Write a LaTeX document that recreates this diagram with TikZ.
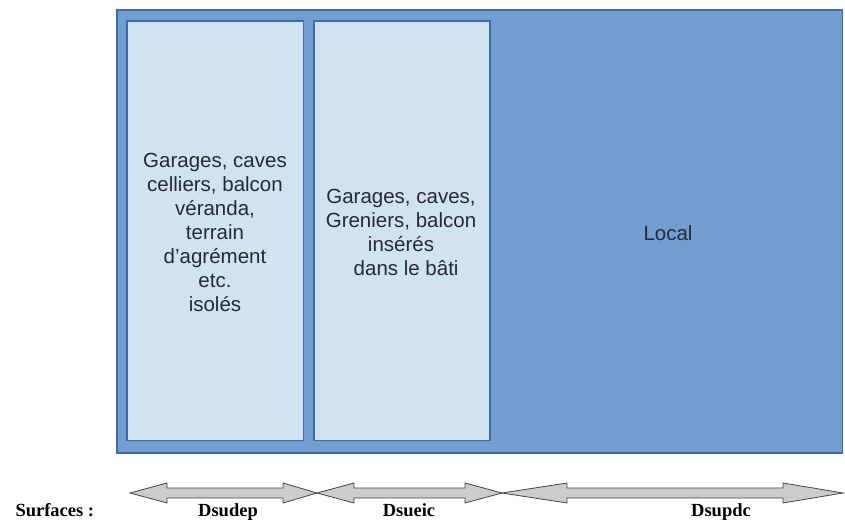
\documentclass[tikz,border=0pt]{standalone}
\usepackage{fontspec}
\setmainfont{Liberation Serif}
\newfontfamily\boxfont{Liberation Sans}
\definecolor{outerfill}{HTML}{729FCF}
\definecolor{outerline}{HTML}{3D6CA8}
\definecolor{innerfill}{HTML}{CFE3F3}
\definecolor{txt}{HTML}{262B33}
\definecolor{arrfill}{HTML}{CCCCCC}
\definecolor{arrline}{HTML}{444444}
\tikzset{
  zone/.style={draw=outerline, line width=1.2pt},
  boxtext/.style={font=\boxfont\fontsize{20.5}{24}\selectfont, text=txt, align=center},
  surf/.style={font=\bfseries\fontsize{18.5}{20}\selectfont, text=black},
  darrow/.style={draw=arrline, fill=arrfill, line width=0.8pt, line join=miter},
}
\begin{document}
\begin{tikzpicture}[x=1pt,y=-1pt]
\useasboundingbox (0,0) rectangle (845,521);
% outer zone
\draw[zone, fill=outerfill] (117,10) rectangle (842.5,453);
% inner boxes
\draw[zone, fill=innerfill] (127,21) rectangle (303.5,440.5);
\draw[zone, fill=innerfill] (314,21) rectangle (490,440.5);
\node[boxtext] (dep) at (215,232) {Garages, caves\\celliers, balcon\\véranda,\\terrain\\d’agrément\\etc.\\isolés};
\node[boxtext] (eic) at (401,232) {Garages, caves,\\Greniers, balcon\\insérés\\\hspace*{0.5em}dans le bâti};
\node[boxtext] (loc) at (668,233) {Local};
% double arrows
\draw[darrow] (130,493) -- (167,483) -- (167,488) -- (283,488) -- (283,483) -- (317,493)
  -- (283,503) -- (283,498) -- (167,498) -- (167,503) -- cycle;
\draw[darrow] (317,493) -- (354,483) -- (354,488) -- (465,488) -- (465,483) -- (502,493)
  -- (465,503) -- (465,498) -- (354,498) -- (354,503) -- cycle;
\draw[darrow] (502,493) -- (567,483) -- (567,488) -- (783,488) -- (783,483) -- (843,493)
  -- (783,503) -- (783,498) -- (567,498) -- (567,503) -- cycle;
% labels
\node[surf, anchor=base west] (sl) at (12,516) {Surfaces :};
\node[surf, anchor=base] (l1) at (228,516) {Dsudep};
\node[surf, anchor=base] (l2) at (409,516) {Dsueic};
\node[surf, anchor=base] (l3) at (721,516) {Dsupdc};
\end{tikzpicture}
\end{document}
